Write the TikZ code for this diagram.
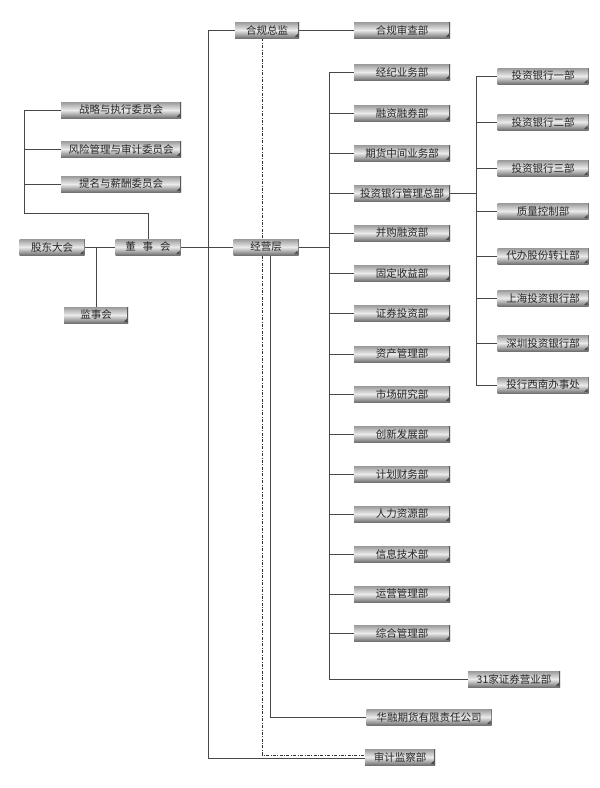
\documentclass[tikz,border=0pt]{standalone}
\usepackage{fontspec}
\setmainfont{Noto Sans CJK SC}
\usetikzlibrary{backgrounds}
\tikzset{
  dbox/.style={minimum height=16pt, inner sep=0pt, text=black!85,
    font=\fontsize{10.5pt}{12pt}\selectfont,
    top color=black!40, bottom color=black!55, middle color=black!8,
    path picture={
      \draw[black!65, line width=1.3pt] (path picture bounding box.north east) -- (path picture bounding box.south east);
      \fill[black!70] ([shift={(-4.5pt,1pt)}]path picture bounding box.south east) -- ([shift={(-1pt,1pt)}]path picture bounding box.south east) -- ([shift={(-1pt,4.5pt)}]path picture bounding box.south east) -- cycle;
    }},
  conn/.style={draw=black!72, line width=0.7pt},
  ddconn/.style={draw=black!80, line width=0.6pt, dash pattern=on 3pt off 1.5pt on 0.8pt off 1.5pt}
}
\begin{document}
\begin{tikzpicture}[x=1pt, y=-1pt]
\useasboundingbox (0,0) rectangle (600,788);
% left
\node[dbox, minimum width=120pt] (zl) at (121,110) {战略与执行委员会};
\node[dbox, minimum width=120pt] (fx) at (121,149) {风险管理与审计委员会};
\node[dbox, minimum width=120pt] (tm) at (121,184) {提名与薪酬委员会};
\node[dbox, minimum width=65pt] (gd) at (52,247) {股东大会};
\node[dbox, minimum width=65pt] (dsh) at (148,247) {董\hspace{7pt}事\hspace{7pt}会};
\node[dbox, minimum width=64pt] (jsh) at (96,315) {监事会};
% middle
\node[dbox, minimum width=64pt] (hgzj) at (267,30) {合规总监};
\node[dbox, minimum width=96pt] (hgsc) at (402,30) {合规审查部};
\node[dbox, minimum width=65pt] (jyc) at (266,247) {经营层};
% departments
\node[dbox, minimum width=96pt] (d1) at (402,72) {经纪业务部};
\node[dbox, minimum width=96pt] (d2) at (402,113) {融资融券部};
\node[dbox, minimum width=96pt] (d3) at (402,153) {期货中间业务部};
\node[dbox, minimum width=96pt] (d4) at (402,193) {投资银行管理总部};
\node[dbox, minimum width=96pt] (d5) at (402,233) {并购融资部};
\node[dbox, minimum width=96pt] (d6) at (402,273) {固定收益部};
\node[dbox, minimum width=96pt] (d7) at (402,313) {证券投资部};
\node[dbox, minimum width=96pt] (d8) at (402,354) {资产管理部};
\node[dbox, minimum width=96pt] (d9) at (402,394) {市场研究部};
\node[dbox, minimum width=96pt] (d10) at (402,434) {创新发展部};
\node[dbox, minimum width=96pt] (d11) at (402,474) {计划财务部};
\node[dbox, minimum width=96pt] (d12) at (402,514) {人力资源部};
\node[dbox, minimum width=96pt] (d13) at (402,554) {信息技术部};
\node[dbox, minimum width=96pt] (d14) at (402,594) {运营管理部};
\node[dbox, minimum width=96pt] (d15) at (402,633) {综合管理部};
\node[dbox, minimum width=92pt] (yyb) at (514,679) {31家证券营业部};
\node[dbox, minimum width=125pt] (hr) at (429,717) {华融期货有限责任公司};
\node[dbox, minimum width=70pt] (sj) at (400,757) {审计监察部};
% investment bank units
\node[dbox, minimum width=91pt] (t1) at (543,76) {投资银行一部};
\node[dbox, minimum width=91pt] (t2) at (543,122) {投资银行二部};
\node[dbox, minimum width=91pt] (t3) at (543,168) {投资银行三部};
\node[dbox, minimum width=91pt] (t4) at (543,211) {质量控制部};
\node[dbox, minimum width=91pt] (t5) at (543,256) {代办股份转让部};
\node[dbox, minimum width=91pt] (t6) at (543,298) {上海投资银行部};
\node[dbox, minimum width=91pt] (t7) at (543,343) {深圳投资银行部};
\node[dbox, minimum width=91pt] (t8) at (543,385) {投行西南办事处};
% bus coordinates
\coordinate (L) at (24,213);
\coordinate (A) at (208,758);
\coordinate (D) at (262,755);
\coordinate (B) at (329,0);
\coordinate (C) at (476,0);
\coordinate (F) at (270,0);
\begin{pgfonlayer}{background}
\draw[conn] (zl.west) -| (L) -| (dsh.north);
\draw[conn] (fx.west) -- (fx.west -| L);
\draw[conn] (tm.west) -- (tm.west -| L);
\draw[conn] (gd.east) -- (dsh.west);
\draw[conn] (jsh.north) -- (jsh.north |- gd.east);
\draw[conn] (dsh.east) -- (jyc.west);
\draw[conn] (hgzj.east) -- (hgsc.west);
\draw[conn] (hgzj.west) -| (A) -- (A -| sj.west);
\draw[ddconn] (D |- hgzj.south) -- (D) -- (D -| sj.west);
\draw[conn] (F |- jyc.south) |- (hr.west);
\draw[conn] (jyc.east) -- (jyc.east -| B);
\draw[conn] (d1.west -| B) -- (yyb.west -| B) -- (yyb.west);
\foreach \n in {d1,d2,d3,d4,d5,d6,d7,d8,d9,d10,d11,d12,d13,d14,d15}
  \draw[conn] (\n.west) -- (\n.west -| B);
\draw[conn] (d4.east) -- (d4.east -| C);
\draw[conn] (t1.west -| C) -- (t8.west -| C);
\foreach \n in {t1,t2,t3,t4,t5,t6,t7,t8}
  \draw[conn] (\n.west) -- (\n.west -| C);
\end{pgfonlayer}
\end{tikzpicture}
\end{document}
